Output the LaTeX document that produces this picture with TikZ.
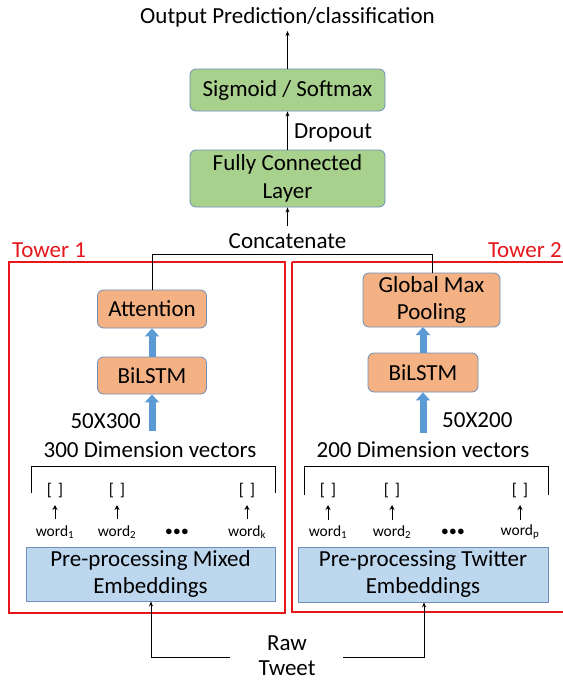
\documentclass[tikz,border=0pt]{standalone}
\usepackage{fontspec}
\setmainfont{Carlito}
\usetikzlibrary{arrows.meta,calc}
\definecolor{gfill}{HTML}{A9D18E}
\definecolor{ofill}{HTML}{F4B183}
\definecolor{bfill}{HTML}{BDD7EE}
\definecolor{bdr}{HTML}{6F8FB8}
\definecolor{bluearr}{HTML}{5B9BD5}
\definecolor{tred}{HTML}{E5161C}
\tikzset{
  gbox/.style={draw=bdr, line width=0.8pt, fill=gfill, rounded corners=6pt, align=center, font=\fontsize{23}{28}\selectfont, inner sep=0pt},
  obox/.style={draw=bdr, line width=0.8pt, fill=ofill, rounded corners=6pt, align=center, font=\fontsize{23}{27}\selectfont, inner sep=0pt},
  bbox/.style={draw=bdr, line width=0.8pt, fill=bfill, align=center, font=\fontsize{23}{27}\selectfont, inner sep=0pt},
  thin arrow/.style={-{Stealth[length=5pt,width=4pt]}, line width=0.7pt},
  small arrow/.style={-{Stealth[length=5pt,width=5pt]}, line width=1pt},
  fat arrow/.style={-{Triangle[length=8pt,width=14pt]}, line width=7pt, draw=bluearr},
  tower/.style={draw=tred, line width=2pt},
  lbl/.style={font=\fontsize{23}{26}\selectfont, inner sep=0pt},
  wlbl/.style={font=\fontsize{15.5}{18}\selectfont, inner sep=0pt},
  br/.style={font=\fontsize{17}{20}\selectfont, inner sep=0pt},
  plain line/.style={line width=0.8pt}
}
\begin{document}
\begin{tikzpicture}[x=1pt,y=-1pt]
\useasboundingbox (0,0) rectangle (563,681);
% towers
\draw[tower] (9,262) rectangle (285,613);
\draw[tower] (292,262) -- (566,262);
\draw[tower] (292,262) -- (292,612) -- (566,612);
\node[lbl, text=tred, anchor=west] (t1) at (12,250) {Tower 1};
\node[lbl, text=tred, anchor=east] (t2) at (562,250) {Tower 2};
% top
\node[lbl] (out) at (287.5,17) {Output Prediction/classification};
\node[gbox, minimum width=195pt, minimum height=42pt] (sig) at (287.5,90) {Sigmoid / Softmax};
\node[gbox, minimum width=195pt, minimum height=57pt] (fc) at (287.5,178.5) {Fully Connected\\Layer};
\node[lbl, anchor=west] (drop) at (294,133) {Dropout};
\node[lbl] (cat) at (287.5,241) {Concatenate};
\coordinate (outb) at (287.5,31);
\coordinate (catt) at (287.5,226);
\draw[thin arrow] (sig.north) -- (outb);
\draw[thin arrow] (fc.north) -- (sig.south);
\draw[thin arrow] (catt) -- (fc.south);
% tower 1
\node[obox, minimum width=109pt, minimum height=38pt] (att) at (152,309) {Attention};
\node[obox, minimum width=109pt, minimum height=37pt] (bl1) at (152,375.5) {BiLSTM};
\coordinate (a1b) at (152,431);
\draw[fat arrow] (bl1.north) -- (att.south);
\draw[fat arrow] (a1b) -- (bl1.south);
\node[lbl, anchor=east] (d1) at (141,421) {50X300};
\node[lbl] (v1) at (150,450) {300 Dimension vectors};
\draw[plain line] (31,493) -- (31,466) -- (275,466) -- (275,493);
\node[bbox, minimum width=249pt, minimum height=54pt] (pp1) at (150.5,574) {Pre-processing Mixed\\Embeddings};
% tower 2
\node[obox, minimum width=137pt, minimum height=54pt] (gmp) at (431.5,300) {Global Max\\Pooling};
\node[obox, minimum width=110pt, minimum height=39pt] (bl2) at (423,372.5) {BiLSTM};
\coordinate (a2b) at (423,433);
\draw[fat arrow] (bl2.north) -- (423,327);
\draw[fat arrow] (a2b) -- (bl2.south);
\node[lbl, anchor=west] (d2) at (442,420) {50X200};
\node[lbl] (v2) at (423,450) {200 Dimension vectors};
\draw[plain line] (304,495) -- (304,466) -- (548,466) -- (548,495);
\node[bbox, minimum width=250pt, minimum height=55pt] (pp2) at (423,574.5) {Pre-processing Twitter\\Embeddings};
% concatenate lines
\draw[plain line] (att.north) -- (152,254) -- (432,254) -- (432,273);
% word vectors tower 1
\foreach \n/\x/\w in {a/55/{word\textsubscript{1}}, b/117/{word\textsubscript{2}}, c/247/{word\textsubscript{k}}} {
  \node[br] (br\n) at (\x,491) {[\hspace{6pt}]};
  \node[wlbl] (w\n) at (\x,532) {\w};
  \draw[small arrow] (\x,519) -- (\x,505);
}
\node[wlbl] (dots1) at (177,532) {$\bullet\!\bullet\!\bullet$};
% word vectors tower 2
\foreach \n/\x/\w in {d/328/{word\textsubscript{1}}, e/392/{word\textsubscript{2}}, f/520/{word\textsubscript{p}}} {
  \node[br] (br\n) at (\x,491) {[\hspace{6pt}]};
  \node[wlbl] (w\n) at (\x,532) {\w};
  \draw[small arrow] (\x,520) -- (\x,505);
}
\node[wlbl] (dots2) at (453,532) {$\bullet\!\bullet\!\bullet$};
% raw tweet
\node[lbl, align=center, font=\fontsize{23}{25}\selectfont] (raw) at (287,656) {Raw\\Tweet};
\draw[thin arrow] (230,657) -- (151,657) -- (pp1.south -| 151,0);
\draw[thin arrow] (343,657) -- (424,657) -- (pp2.south -| 424,0);
\end{tikzpicture}
\end{document}
